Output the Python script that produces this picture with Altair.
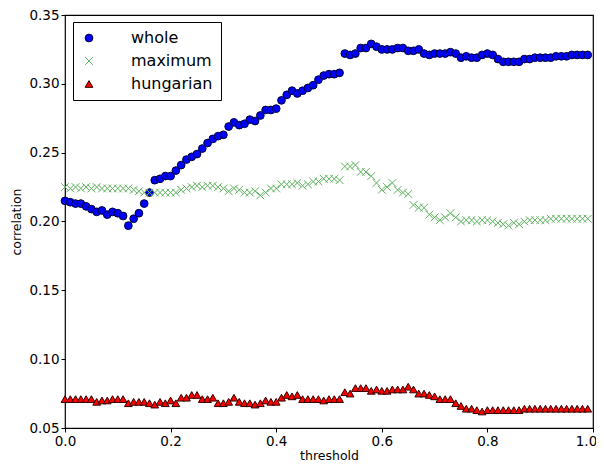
import altair as alt
import pandas as pd

threshold = [round(i * 0.01, 2) for i in range(100)]

whole = [0.215, 0.214, 0.213, 0.213, 0.211, 0.209, 0.207, 0.208, 0.205, 0.207,
         0.206, 0.204, 0.197, 0.202, 0.206, 0.213, 0.221, 0.230, 0.231, 0.233,
         0.233, 0.237, 0.241, 0.245, 0.247, 0.249, 0.253, 0.257, 0.260, 0.262,
         0.263, 0.269, 0.272, 0.270, 0.271, 0.274, 0.273, 0.277, 0.281, 0.281,
         0.282, 0.288, 0.292, 0.295, 0.293, 0.295, 0.297, 0.299, 0.303, 0.306,
         0.307, 0.307, 0.308, 0.322, 0.321, 0.322, 0.326, 0.326, 0.329, 0.327,
         0.325, 0.325, 0.325, 0.326, 0.326, 0.324, 0.324, 0.325, 0.322, 0.321,
         0.322, 0.322, 0.322, 0.323, 0.322, 0.319, 0.320, 0.319, 0.319, 0.321,
         0.322, 0.321, 0.318, 0.316, 0.316, 0.316, 0.316, 0.318, 0.318, 0.319,
         0.319, 0.319, 0.319, 0.320, 0.320, 0.320, 0.321, 0.321, 0.321, 0.321]

maximum = [0.225, 0.224, 0.225, 0.224, 0.225, 0.224, 0.225, 0.224, 0.224, 0.224,
           0.224, 0.224, 0.224, 0.223, 0.222, 0.221, 0.221, 0.221, 0.221, 0.221,
           0.221, 0.221, 0.223, 0.224, 0.225, 0.226, 0.225, 0.226, 0.226, 0.225,
           0.224, 0.222, 0.224, 0.223, 0.221, 0.221, 0.222, 0.219, 0.221, 0.224,
           0.224, 0.227, 0.227, 0.227, 0.228, 0.226, 0.227, 0.229, 0.229, 0.231,
           0.231, 0.231, 0.230, 0.240, 0.240, 0.241, 0.236, 0.236, 0.233, 0.228,
           0.223, 0.225, 0.228, 0.223, 0.221, 0.220, 0.212, 0.210, 0.210, 0.205,
           0.203, 0.201, 0.203, 0.206, 0.203, 0.200, 0.201, 0.201, 0.200, 0.201,
           0.201, 0.200, 0.199, 0.198, 0.197, 0.199, 0.198, 0.200, 0.201, 0.201,
           0.201, 0.201, 0.202, 0.202, 0.202, 0.202, 0.202, 0.202, 0.202, 0.202]

hungarian = [0.071, 0.071, 0.071, 0.071, 0.071, 0.071, 0.069, 0.070, 0.070, 0.071,
             0.071, 0.071, 0.068, 0.069, 0.069, 0.069, 0.068, 0.067, 0.069, 0.068,
             0.070, 0.068, 0.072, 0.072, 0.074, 0.074, 0.071, 0.071, 0.072, 0.068,
             0.068, 0.069, 0.072, 0.069, 0.068, 0.068, 0.067, 0.068, 0.070, 0.069,
             0.069, 0.072, 0.074, 0.073, 0.074, 0.071, 0.071, 0.071, 0.071, 0.070,
             0.071, 0.071, 0.071, 0.076, 0.075, 0.079, 0.079, 0.079, 0.077, 0.078,
             0.077, 0.077, 0.078, 0.078, 0.078, 0.080, 0.078, 0.075, 0.075, 0.074,
             0.073, 0.071, 0.071, 0.071, 0.068, 0.066, 0.064, 0.064, 0.063, 0.062,
             0.063, 0.063, 0.063, 0.063, 0.063, 0.063, 0.063, 0.064, 0.064, 0.064,
             0.064, 0.064, 0.064, 0.064, 0.064, 0.064, 0.064, 0.064, 0.064, 0.064]

series_names = ["whole", "maximum", "hungarian"]

rows = []
for name, vals in zip(series_names, [whole, maximum, hungarian]):
    for t, v in zip(threshold, vals):
        rows.append({"threshold": t, "correlation": v, "series": name})
df = pd.DataFrame(rows)

x_path = "M-1,-1L1,1M-1,1L1,-1"
legend = alt.Legend(
    title=None, orient="none", legendX=8, legendY=7,
    labelFont="DejaVu Sans", labelFontSize=16, labelColor="black",
    strokeColor="black", fillColor="white", padding=8, cornerRadius=0,
    rowPadding=7, symbolSize=60, symbolStrokeWidth=1, labelOffset=34,
)
domain = series_names

chart = alt.Chart(df).mark_point(opacity=1, strokeWidth=1, size=60).encode(
    x=alt.X("threshold:Q", title="threshold",
            scale=alt.Scale(domain=[0, 1], nice=False, zero=False),
            axis=alt.Axis(values=[0, 0.2, 0.4, 0.6, 0.8, 1.0], format=".1f", labelFlush=False,
                          labelOffset={"condition": {"test": "datum.value >= 1", "value": -7},
                                       "value": 0})),
    y=alt.Y("correlation:Q", title="correlation",
            scale=alt.Scale(domain=[0.05, 0.35], nice=False, zero=False),
            axis=alt.Axis(values=[0.05, 0.10, 0.15, 0.20, 0.25, 0.30, 0.35], format=".2f",
                          labelFlush=False, titlePadding=5)),
    shape=alt.Shape("series:N", legend=legend,
                    scale=alt.Scale(domain=domain, range=["circle", x_path, "triangle-up"])),
    fill=alt.Fill("series:N", legend=legend,
                  scale=alt.Scale(domain=domain, range=["#0000ff", "transparent", "#ff0000"])),
    stroke=alt.Stroke("series:N", legend=legend,
                      scale=alt.Scale(domain=domain, range=["#000033", "#5fb25f", "#330000"])),
).properties(
    width=528, height=413,
    autosize=alt.AutoSizeParams(type="none"),
    padding={"left": 57, "top": 7, "right": 3, "bottom": 34},
).configure_view(
    stroke="black", strokeWidth=1.2
).configure_axis(
    grid=False, domain=False, tickColor="black", tickSize=4,
    labelFont="DejaVu Sans", labelFontSize=13.5, labelColor="black",
    titleFont="DejaVu Sans", titleFontSize=12.5, titleColor="black", titleFontWeight="normal",
    labelPadding=2, titlePadding=2,
)

chart.save("out.html", embed_options={"renderer": "svg", "actions": False})
